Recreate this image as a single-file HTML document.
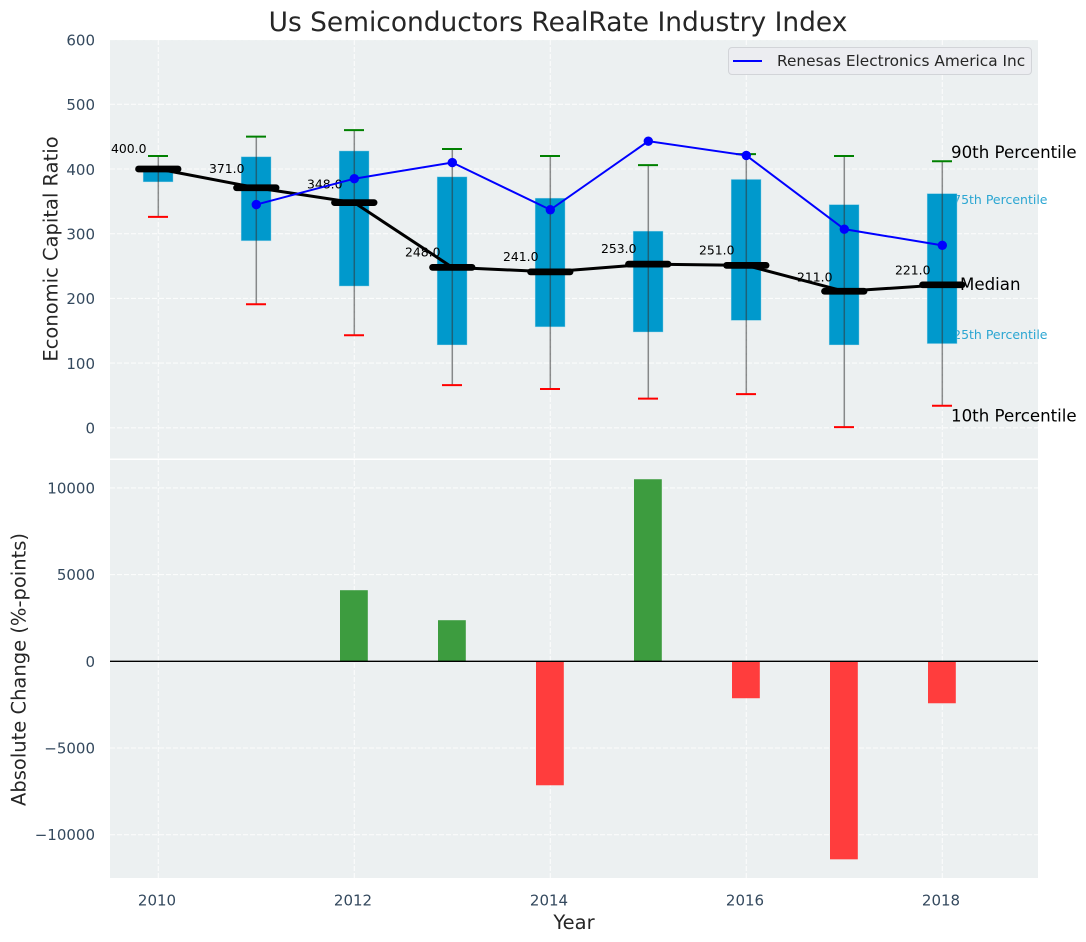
<!DOCTYPE html>
<html>
<head>
<meta charset="utf-8">
<title>Us Semiconductors RealRate Industry Index</title>
<style>
html,body{margin:0;padding:0;background:#fff;width:1086px;height:942px;overflow:hidden}
svg{display:block}
text{font-family:"DejaVu Sans","Liberation Sans",sans-serif}
.ytick{font-size:15px;fill:#34495e;text-anchor:end}
.xtick{font-size:15px;fill:#34495e;text-anchor:middle}
.axl{font-size:19.5px;fill:#262626;text-anchor:middle}
.grid{stroke:#fff;stroke-width:1.1;stroke-dasharray:5 2;stroke-opacity:.8}
</style>
</head>
<body>
<svg id="chart" width="1086" height="942" viewBox="0 0 1086 942">
  <text x="558" y="31" text-anchor="middle" font-size="26.45" fill="#262626">Us Semiconductors RealRate Industry Index</text>
  <rect x="110" y="40" width="928" height="418.5" fill="#ecf0f1"/>
  <rect x="110" y="460" width="928" height="418" fill="#ecf0f1"/>
  <g id="gridLayer"></g>
  <g id="annoBehind">
    <text x="1047.5" y="204" text-anchor="end" font-size="12.5" fill="#2ba6d2">75th Percentile</text>
    <text x="1047.5" y="339" text-anchor="end" font-size="12.5" fill="#2ba6d2">25th Percentile</text>
  </g>
  <g id="boxLayer"></g>
  <g id="barLayer"></g>
  <line x1="110" x2="1038" y1="661.3" y2="661.3" stroke="#000" stroke-width="1.3"/>
  <g id="tickLayer"></g>
  <text class="axl" transform="translate(57.5,249) rotate(-90)">Economic Capital Ratio</text>
  <text class="axl" transform="translate(25.5,669.5) rotate(-90)">Absolute Change (%-points)</text>
  <text class="axl" x="574" y="929">Year</text>
  <g>
    <rect x="728.5" y="47.5" width="303" height="27" rx="3.5" fill="#ecedf1" stroke="#d2d4d8" stroke-width="1"/>
    <line x1="733" x2="762" y1="61" y2="61" stroke="#0000ff" stroke-width="2"/>
    <text x="777" y="66" font-size="15.35" fill="#262626">Renesas Electronics America Inc</text>
  </g>
  <g>
    <text x="951" y="158" font-size="16.65" fill="#000">90th Percentile</text>
    <text x="960" y="290" font-size="16.65" fill="#000">Median</text>
    <text x="951" y="421.5" font-size="16.65" fill="#000">10th Percentile</text>
  </g>
</svg>
<script>
const years = [2010, 2011, 2012, 2013, 2014, 2015, 2016, 2017, 2018];
const p90 = [420, 450, 460, 431, 420, 406, 423, 420, 412];
const p75 = [400, 419, 428, 388, 355, 304, 384, 345, 362];
const medians = [400, 371, 348, 248, 241, 253, 251, 211, 221];
const p25 = [380, 289, 219, 128, 156, 148, 166, 128, 130];
const p10 = [326, 191, 143, 66, 60, 45, 52, 1, 34];
const renesas = [null, 345, 385, 410, 337, 443, 421, 307, 282];
const changes = [null, null, 4100, 2370, -7150, 10500, -2130, -11420, -2420];
const topTicks = [0, 100, 200, 300, 400, 500, 600];
const bottomTicks = [-10000, -5000, 0, 5000, 10000];
const xTicks = [2010, 2012, 2014, 2016, 2018];

const NS = 'http://www.w3.org/2000/svg';
function xAt(year) { return 158.3 + 98 * (year - 2010); }
function yTop(v) { return 427.8 - 0.6470 * v; }
function yBot(v) { return 661.3 - 0.01734 * v; }
function mk(tag, parent, attrs, text) {
  const el = document.createElementNS(NS, tag);
  for (const k in attrs) el.setAttribute(k, attrs[k]);
  if (text !== undefined) el.textContent = text;
  parent.appendChild(el);
  return el;
}
function fmt(v) { return v < 0 ? '\u2212' + Math.abs(v) : String(v); }

const gridLayer = document.getElementById('gridLayer');
const boxLayer = document.getElementById('boxLayer');
const barLayer = document.getElementById('barLayer');
const tickLayer = document.getElementById('tickLayer');

xTicks.forEach(function (t) {
  const a = mk('line', gridLayer, { x1: xAt(t), x2: xAt(t), y1: 40, y2: 458.5, class: 'grid' });
  
  
  const b = mk('line', gridLayer, { x1: xAt(t), x2: xAt(t), y1: 460, y2: 878, class: 'grid' });
  
  
  const l = mk('text', tickLayer, { x: xAt(t) - 1.3, y: 905.5, class: 'xtick' }, String(t));
  
  
});
topTicks.forEach(function (t) {
  const g = mk('line', gridLayer, { x1: 110, x2: 1038, y1: yTop(t), y2: yTop(t), class: 'grid' });
  
  
  const l = mk('text', tickLayer, { x: 95, y: yTop(t) + 5.8, class: 'ytick' }, fmt(t));
  
  
});
bottomTicks.forEach(function (t) {
  const g = mk('line', gridLayer, { x1: 110, x2: 1038, y1: yBot(t), y2: yBot(t), class: 'grid' });
  
  
  const l = mk('text', tickLayer, { x: 95, y: yBot(t) + 5.5, class: 'ytick' }, fmt(t));
  
  
});

years.forEach(function (yr, i) {
  const x = xAt(yr);
  const box = mk('rect', boxLayer, { x: x - 15.2, y: yTop(p75[i]), width: 30, height: yTop(p25[i]) - yTop(p75[i]), fill: '#0099cc', stroke: '#bfe3ef', 'stroke-opacity': .5, 'stroke-width': .8 });
  
  
  const wh = mk('line', boxLayer, { x1: x, x2: x, y1: yTop(p90[i]), y2: yTop(p10[i]), stroke: '#333', 'stroke-opacity': .55, 'stroke-width': 1.5 });
  
  
  const hi = mk('line', boxLayer, { x1: x - 10.3, x2: x + 9.7, y1: yTop(p90[i]), y2: yTop(p90[i]), stroke: '#008000', 'stroke-width': 2 });
  
  
  const lo = mk('line', boxLayer, { x1: x - 10.3, x2: x + 9.7, y1: yTop(p10[i]), y2: yTop(p10[i]), stroke: '#ff0000', 'stroke-width': 2 });
  
  
});

const medianPts = years.map(function (yr, i) { return xAt(yr) + ',' + yTop(medians[i]); }).join(' ');
const medianLine = mk('polyline', boxLayer, { points: medianPts, fill: 'none', stroke: '#000', 'stroke-width': 3 });



years.forEach(function (yr, i) {
  const x = xAt(yr);
  const m = mk('line', boxLayer, { x1: x - 19.8, x2: x + 19.8, y1: yTop(medians[i]), y2: yTop(medians[i]), stroke: '#000', 'stroke-width': 6.7, 'stroke-linecap': 'round' });
  
  
  const t = mk('text', boxLayer, { x: x - 47.3, y: yTop(medians[i] * 1.05) - 3, 'font-size': 12.4, fill: '#000' }, medians[i].toFixed(1));
  
  
});

const renesasPts = [];
years.forEach(function (yr, i) {
  if (renesas[i] !== null) renesasPts.push(xAt(yr) + ',' + yTop(renesas[i]));
});
const renesasLine = mk('polyline', boxLayer, { points: renesasPts.join(' '), fill: 'none', stroke: '#0000ff', 'stroke-width': 2 });


years.forEach(function (yr, i) {
  if (renesas[i] === null) return;
  const c = mk('circle', boxLayer, { cx: xAt(yr), cy: yTop(renesas[i]), r: 4.7, fill: '#0000ff' });
  
  
});

years.forEach(function (yr, i) {
  const v = changes[i];
  if (v === null) return;
  const top = Math.min(yBot(0), yBot(v));
  const bar = mk('rect', barLayer, { x: xAt(yr) - 14.3, y: top, width: 27.8, height: Math.abs(yBot(v) - yBot(0)), fill: v >= 0 ? '#3d9c3f' : '#ff3d3d' });
  
  
});
</script>
</body>
</html>
